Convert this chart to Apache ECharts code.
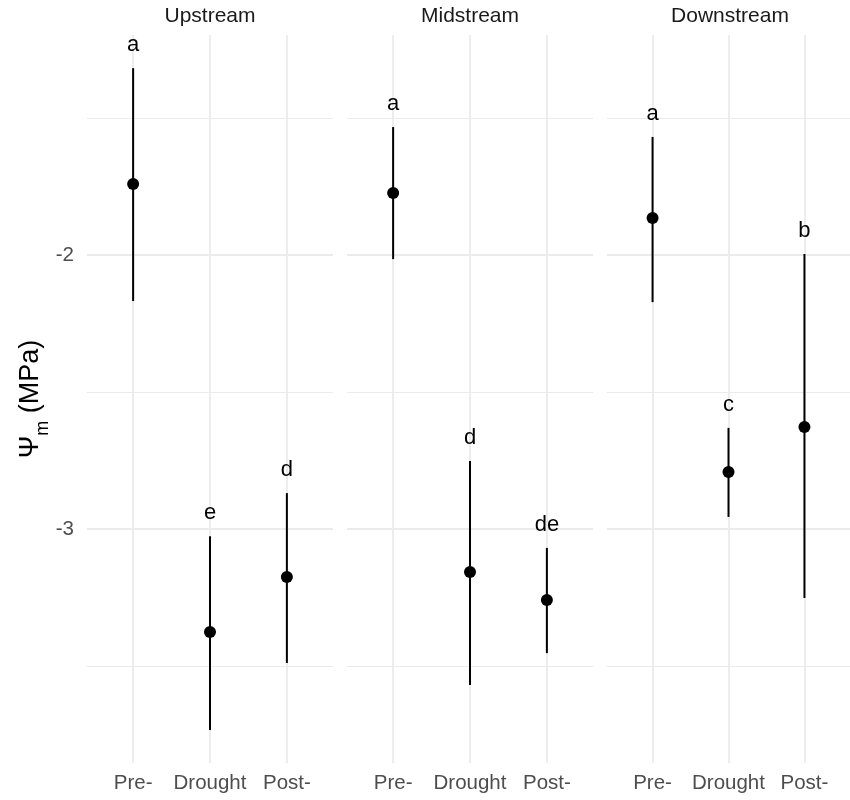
<!DOCTYPE html>
<html><head><meta charset="utf-8">
<script src="https://cdn.jsdelivr.net/npm/echarts@6/dist/echarts.min.js"></script>
<style>html,body{margin:0;padding:0;background:#fff}#c{width:850px;height:800px}</style>
</head><body><div id="c"></div>
<script>
// ---- data ----
const sites = ['Upstream', 'Midstream', 'Downstream'];
const categories = ['Pre-', 'Drought', 'Post-'];
const yTicks = [-3, -2];
const yMajorGrid = [-3, -2];
const yMinorGrid = [-3.5, -2.5, -1.5];

const meanUp = [-1.741, -3.376, -3.175];
const lowUp = [-2.168, -3.734, -3.489];
const highUp = [-1.318, -3.026, -2.869];
const letterUp = ['a', 'e', 'd'];

const meanMid = [-1.774, -3.157, -3.259];
const lowMid = [-2.015, -3.569, -3.453];
const highMid = [-1.533, -2.752, -3.069];
const letterMid = ['a', 'd', 'de'];

const meanDown = [-1.865, -2.792, -2.628];
const lowDown = [-2.172, -2.956, -3.252];
const highDown = [-1.569, -2.631, -1.996];
const letterDown = ['a', 'c', 'b'];

const yMin = -3.854, yMax = -1.197;
const xMin = 0.4, xMax = 3.6;

// ---- chart ----
const FONT = "'Liberation Sans', Arial, sans-serif";
const panels = [
  {mean: meanUp, low: lowUp, high: highUp, letter: letterUp},
  {mean: meanMid, low: lowMid, high: highMid, letter: letterMid},
  {mean: meanDown, low: lowDown, high: highDown, letter: letterDown}
];
const gridLefts = [87, 347, 607];
const gridW = 246, gridTop = 35, gridH = 728;

const grid = gridLefts.map(l => ({left: l, width: gridW, top: gridTop, height: gridH}));
const xAxis = sites.map((s, i) => ({
  type: 'value', gridIndex: i, min: xMin, max: xMax,
  axisLine: {show: false}, axisTick: {show: false}, splitLine: {show: false},
  axisLabel: {
    customValues: [1, 2, 3],
    formatter: v => categories[Math.round(v) - 1] || '',
    color: '#4d4d4d', fontSize: 20.5, fontFamily: FONT, margin: 10
  }
}));
const yAxis = sites.map((s, i) => ({
  type: 'value', gridIndex: i, min: yMin, max: yMax,
  axisLine: {show: false}, axisTick: {show: false}, splitLine: {show: false},
  axisLabel: {
    show: i === 0, customValues: yTicks, formatter: v => String(v),
    color: '#4d4d4d', fontSize: 20.5, fontFamily: FONT, margin: 13
  },
  name: i === 0 ? '{a|Ψ}{s|m}{a| (MPa)}' : '',
  nameLocation: 'middle', nameGap: 42, nameRotate: 90,
  nameTextStyle: {
    rich: {
      a: {fontSize: 27, fontFamily: FONT, color: '#000', verticalAlign: 'bottom', lineHeight: 30},
      s: {fontSize: 18, fontFamily: FONT, color: '#000', verticalAlign: 'bottom', lineHeight: 30, padding: [0, 0, -8, 0]}
    }
  }
}));

const series = [];
panels.forEach((p, i) => {
  const gridLines = [];
  yMajorGrid.forEach(v => gridLines.push({yAxis: v, lineStyle: {width: 1.8}}));
  yMinorGrid.forEach(v => gridLines.push({yAxis: v, lineStyle: {width: 1}}));
  [1, 2, 3].forEach(v => gridLines.push({xAxis: v, lineStyle: {width: 1.8}}));
  series.push({
    type: 'scatter', xAxisIndex: i, yAxisIndex: i, z: 0, silent: true,
    symbolSize: 0, data: p.mean.map((m, k) => [k + 1, m]),
    markLine: {
      z: 0, silent: true, symbol: 'none', animation: false,
      label: {show: false},
      lineStyle: {color: '#ebebeb', type: 'solid'},
      emphasis: {disabled: true},
      data: gridLines
    }
  });
  series.push({
    type: 'custom', xAxisIndex: i, yAxisIndex: i, z: 10, silent: true,
    data: p.low.map((lo, k) => [k + 1, lo, p.high[k]]),
    renderItem: (params, api) => {
      const a = api.coord([api.value(0), api.value(1)]);
      const b = api.coord([api.value(0), api.value(2)]);
      return {type: 'line', shape: {x1: a[0], y1: a[1], x2: b[0], y2: b[1]},
        style: {stroke: '#000', lineWidth: 2}};
    }
  });
  series.push({
    type: 'scatter', xAxisIndex: i, yAxisIndex: i, z: 11, silent: true,
    symbol: 'circle', symbolSize: 12, itemStyle: {color: '#000', opacity: 1},
    data: p.mean.map((m, k) => [k + 1, m])
  });
  series.push({
    type: 'custom', xAxisIndex: i, yAxisIndex: i, z: 12, silent: true,
    data: p.high.map((h, k) => [k + 1, h, p.letter[k]]),
    renderItem: (params, api) => {
      const c = api.coord([api.value(0), api.value(1)]);
      return {type: 'text', x: c[0], y: c[1] - 23,
        style: {text: p.letter[params.dataIndex], fill: '#000', font: '22px ' + FONT,
          align: 'center', verticalAlign: 'middle'}};
    }
  });
});

const title = sites.map((s, i) => ({
  text: s, left: gridLefts[i] + gridW / 2, top: 6, padding: 0, textAlign: 'center',
  textStyle: {fontSize: 21, fontWeight: 'normal', color: '#1a1a1a', fontFamily: FONT}
}));

const chart = echarts.init(document.getElementById('c'));
chart.setOption({animation: false, backgroundColor: '#fff', title, grid, xAxis, yAxis, series});
</script>
</body></html>
